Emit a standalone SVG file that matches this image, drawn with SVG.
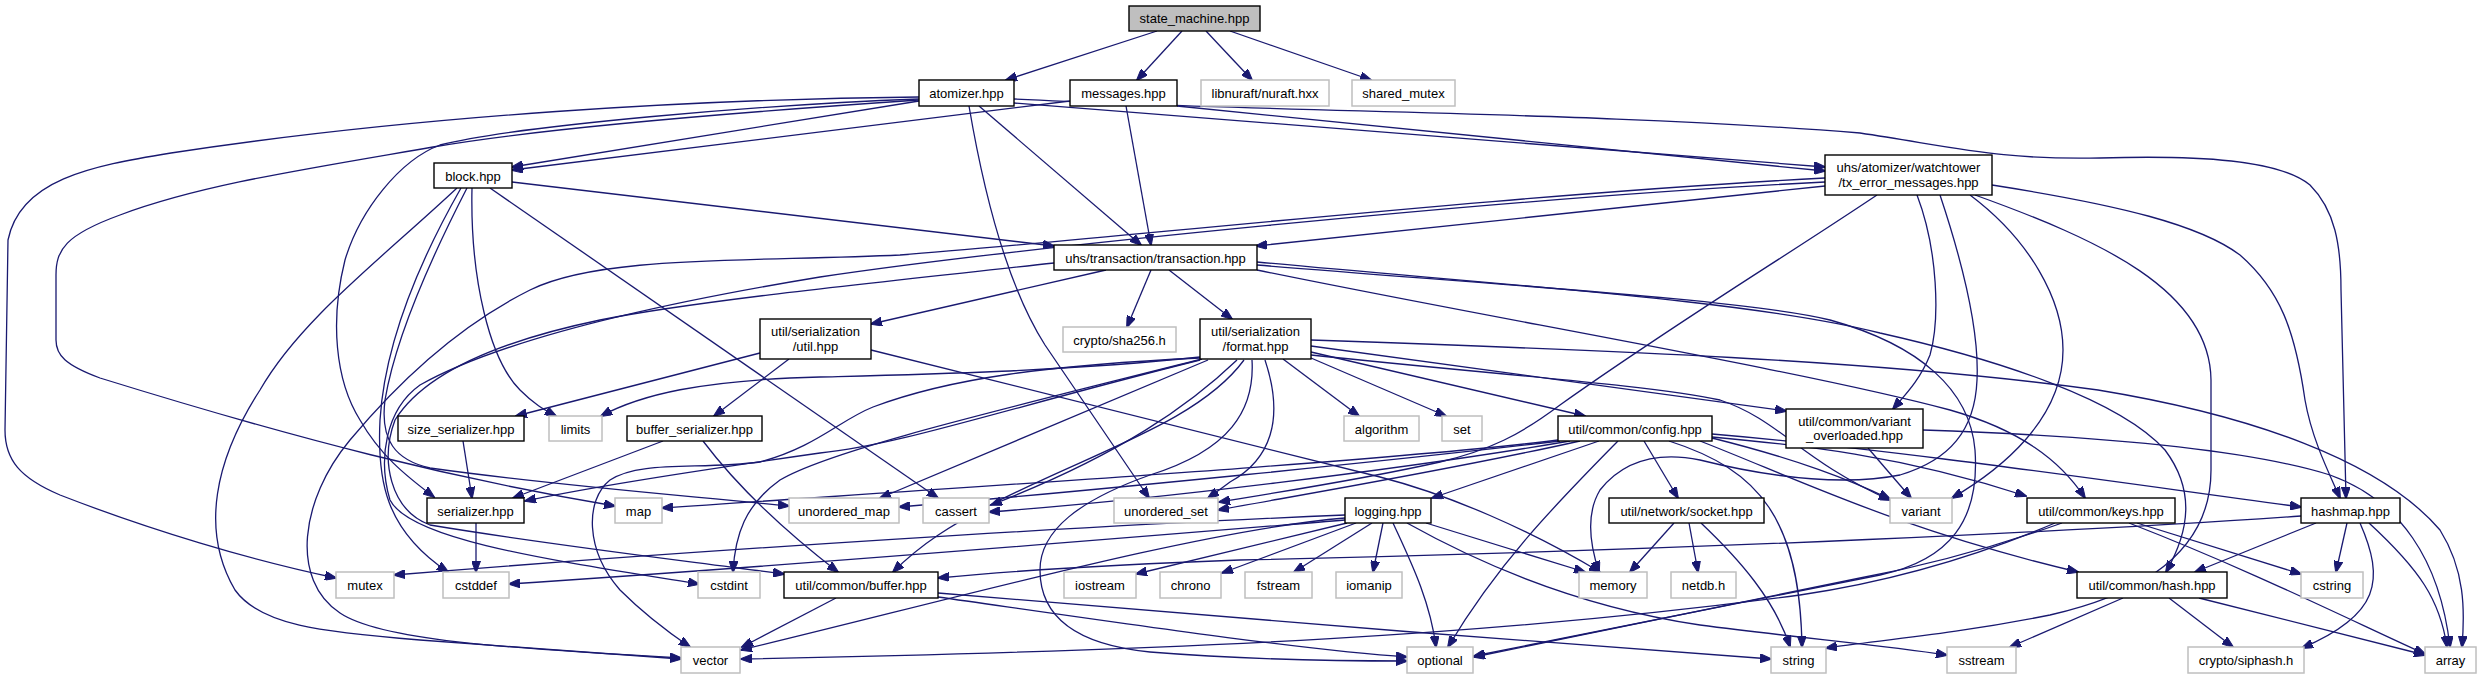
<svg xmlns="http://www.w3.org/2000/svg" width="2481" height="679" viewBox="0 0 2481 679">
<style>
.n rect{fill:#fff;stroke:#000;stroke-width:1.4}
.x rect{fill:#fff;stroke:#bfbfbf;stroke-width:1.5}
.r rect{fill:#bfbfbf;stroke:#000;stroke-width:1.4}
text{font-family:"Liberation Sans",Arial,sans-serif;font-size:13px;fill:#000;text-anchor:middle}
#edges path{fill:none;stroke:#191970;stroke-width:1.3;marker-end:url(#a)}
</style>
<defs>
<marker id="a" viewBox="0 0 12 9" refX="11" refY="4.5" markerWidth="12" markerHeight="9" markerUnits="userSpaceOnUse" orient="auto">
<path d="M0,0 L12,4.5 L0,9 z" fill="#191970" stroke="#191970" stroke-width="1"/>
</marker>
</defs>
<rect width="2481" height="679" fill="#fff"/>
<g id="edges">
<path d="M1157,31 L1006,80"/>
<path d="M1182,31 L1137,80"/>
<path d="M1206,31 L1252,80"/>
<path d="M1230,31 L1371,80"/>
<path d="M919,101 L512,167"/>
<path d="M1070,101 L512,170"/>
<path d="M1014,103 L1825,167"/>
<path d="M1177,106 L1825,171"/>
<path d="M979,106 L1141,245"/>
<path d="M1126,106 L1151,245"/>
<path d="M512,182 L1054,246"/>
<path d="M1825,186 L1256,246"/>
<path d="M1014,99 C1300,113 1600,112 1860,133 C1960,148 2000,160 2100,158 C2200,155 2280,160 2310,185 C2335,210 2341,245 2341,290 L2346,498"/>
<path d="M969,106 C985,200 1010,290 1045,345 L1149,498"/>
<path d="M919,97 C700,99 420,115 171,153 C90,166 20,180 8,240 L5,430 C5,460 20,478 60,495 C150,530 250,560 336,578"/>
<path d="M919,100 C800,108 560,125 433,147 C300,170 200,185 120,215 C65,235 56,250 56,275 L56,340 C56,355 65,365 100,378 C300,440 450,478 615,506"/>
<path d="M919,99 C760,105 520,125 440,145 C400,160 360,210 345,260 C330,320 335,380 360,420 C380,455 405,475 434,497"/>
<path d="M457,188 C380,260 300,320 260,390 C215,460 200,530 235,590 C260,625 320,632 420,640 L681,659"/>
<path d="M490,188 L938,498"/>
<path d="M472,188 C470,280 490,360 520,390 C535,405 545,410 556,416"/>
<path d="M461,188 C420,260 385,340 380,420 C377,480 385,530 448,572"/>
<path d="M467,188 C430,260 395,340 385,400 C380,440 395,460 430,468 C550,485 680,495 789,506"/>
<path d="M1825,178 C1500,195 1100,240 900,255 C750,262 600,255 530,290 C460,325 400,380 350,440 C300,500 290,580 340,613 C380,640 500,648 681,658"/>
<path d="M1825,182 C1500,198 1000,250 820,277 C650,305 500,340 420,385 C385,410 378,460 390,500 C410,540 550,560 699,584"/>
<path d="M1054,263 C900,280 700,300 600,320 C480,345 420,380 395,420 C380,460 390,510 430,525 C550,545 680,560 784,574"/>
<path d="M760,353 L516,416"/>
<path d="M789,359 L714,416"/>
<path d="M871,350 L1380,477 C1450,495 1530,530 1600,572"/>
<path d="M463,441 L472,498"/>
<path d="M663,441 L513,498"/>
<path d="M703,441 C740,490 790,535 838,572"/>
<path d="M476,523 L476,572"/>
<path d="M1106,270 L871,324"/>
<path d="M1151,270 L1127,327"/>
<path d="M1169,270 L1232,319"/>
<path d="M1257,262 C1500,285 1750,300 1880,333 C2000,360 2120,400 2165,450 C2195,490 2190,530 2166,572"/>
<path d="M1257,265 C1500,285 1750,300 1830,320 C1920,345 1970,390 1975,450 C1980,520 1950,560 1880,575 L1474,656"/>
<path d="M1257,270 C1500,320 1800,370 1950,410 C2020,430 2060,460 2085,498"/>
<path d="M1917,195 C1938,250 1940,320 1930,355 C1920,380 1905,395 1893,409"/>
<path d="M1970,195 C2030,240 2063,300 2063,350 C2063,420 2000,470 1952,498"/>
<path d="M1975,195 C2100,240 2210,290 2211,380 L2211,470 C2211,540 2160,590 2050,615 C1950,635 1880,640 1826,648"/>
<path d="M1992,185 C2120,205 2200,225 2240,255 C2280,290 2295,330 2305,400 C2312,440 2330,475 2340,498"/>
<path d="M1940,195 C1955,240 1980,320 1977,380 C1975,430 1950,460 1900,475 C1850,485 1780,480 1700,460 C1650,450 1620,465 1600,490 C1585,515 1590,545 1599,572"/>
<path d="M1877,195 C1780,260 1680,320 1560,405 C1520,435 1490,450 1440,462 C1360,480 1280,492 1219,502"/>
<path d="M1200,357 C1060,372 900,375 820,377 C700,380 640,395 601,416"/>
<path d="M1200,360 C1000,410 900,445 820,453 C700,470 600,485 525,501"/>
<path d="M1200,358 C1050,365 950,378 873,407 C840,420 816,447 760,462 C700,470 640,460 610,480 C585,500 585,550 620,590 C645,615 665,630 690,647"/>
<path d="M1202,359 C1000,410 830,450 780,480 C745,505 735,535 733,572"/>
<path d="M1208,360 L880,498"/>
<path d="M1237,360 C1190,405 1120,455 991,505"/>
<path d="M1244,360 C1200,420 1100,450 1000,500 C950,525 920,545 893,572"/>
<path d="M1252,360 C1255,410 1230,450 1150,475 C1080,500 1040,530 1040,570 C1040,620 1080,645 1150,652 C1250,660 1330,661 1407,661"/>
<path d="M1265,360 C1285,420 1270,460 1230,482 C1222,488 1215,493 1208,498"/>
<path d="M1283,359 L1359,416"/>
<path d="M1311,358 L1446,416"/>
<path d="M1311,352 L1585,416"/>
<path d="M1311,346 L1786,411"/>
<path d="M1311,355 C1500,375 1650,385 1720,400 C1780,420 1800,460 1890,500"/>
<path d="M1311,340 C1600,350 1880,360 2098,390 C2250,415 2380,460 2440,530 C2465,570 2465,610 2462,647"/>
<path d="M1599,441 L1432,498"/>
<path d="M1558,440 C1400,460 1000,485 662,508"/>
<path d="M1560,441 C1400,460 1100,490 899,507"/>
<path d="M1570,441 C1400,470 1150,500 989,512"/>
<path d="M1580,441 C1450,470 1300,495 1218,510"/>
<path d="M1618,441 C1560,500 1500,560 1448,647"/>
<path d="M1644,441 L1678,498"/>
<path d="M1669,441 C1760,470 1800,520 1802,647"/>
<path d="M1700,441 C1800,480 1900,530 2078,572"/>
<path d="M1712,437 C1800,445 1900,455 2026,496"/>
<path d="M1712,438 C1800,460 1850,480 1890,499"/>
<path d="M1712,434 C1900,450 2100,480 2301,507"/>
<path d="M1347,523 L1136,574"/>
<path d="M1356,523 L1222,573"/>
<path d="M1372,523 L1294,572"/>
<path d="M1383,523 L1373,572"/>
<path d="M1426,523 L1585,572"/>
<path d="M1393,523 C1410,560 1430,600 1436,647"/>
<path d="M1407,523 C1500,575 1600,610 1700,625 C1800,638 1880,645 1947,655"/>
<path d="M1345,515 C1100,525 700,550 394,575"/>
<path d="M1345,520 C1100,540 800,565 509,584"/>
<path d="M1345,518 C1200,530 950,600 741,650"/>
<path d="M1674,523 L1630,572"/>
<path d="M1689,523 L1698,572"/>
<path d="M1701,523 C1740,560 1775,600 1790,647"/>
<path d="M1868,448 L1911,498"/>
<path d="M1923,430 C2100,436 2250,450 2330,475 C2400,500 2440,560 2450,647"/>
<path d="M2137,523 L2301,574"/>
<path d="M2129,523 C2250,570 2350,620 2425,654"/>
<path d="M2062,523 C2000,545 1930,565 1860,578 L1474,657"/>
<path d="M2055,523 C1980,555 1900,580 1800,595 C1500,635 1200,650 741,659"/>
<path d="M2123,598 L2010,647"/>
<path d="M2169,598 L2233,647"/>
<path d="M2199,598 L2425,655"/>
<path d="M2301,516 C2100,530 1700,550 1240,560 C1100,565 1000,572 938,578"/>
<path d="M2316,523 L2195,572"/>
<path d="M2347,523 L2336,572"/>
<path d="M2360,523 C2385,580 2380,615 2302,648"/>
<path d="M2369,523 C2420,570 2440,600 2447,647"/>
<path d="M836,598 L742,647"/>
<path d="M938,593 C1200,615 1500,640 1771,659"/>
<path d="M938,597 C1100,620 1300,650 1407,657"/>
</g>
<g id="state_machine" class="r"><rect x="1129" y="6" width="131" height="25"/><text x="1194.5" y="23">state_machine.hpp</text></g>
<g id="atomizer" class="n"><rect x="919" y="80" width="95" height="26"/><text x="966.5" y="97.5">atomizer.hpp</text></g>
<g id="messages" class="n"><rect x="1070" y="80" width="107" height="26"/><text x="1123.5" y="97.5">messages.hpp</text></g>
<g id="nuraft" class="x"><rect x="1201" y="80" width="128" height="26"/><text x="1265" y="97.5">libnuraft/nuraft.hxx</text></g>
<g id="shared_mutex" class="x"><rect x="1352" y="80" width="103" height="26"/><text x="1403.5" y="97.5">shared_mutex</text></g>
<g id="block" class="n"><rect x="434" y="163" width="78" height="25"/><text x="473" y="180.5">block.hpp</text></g>
<g id="tx_error" class="n"><rect x="1825" y="155" width="167" height="40"/><text x="1908.5" y="171.5">uhs/atomizer/watchtower</text><text x="1908.5" y="186.5">/tx_error_messages.hpp</text></g>
<g id="transaction" class="n"><rect x="1054" y="245" width="203" height="25"/><text x="1155.5" y="262.5">uhs/transaction/transaction.hpp</text></g>
<g id="ser_util" class="n"><rect x="760" y="319" width="111" height="40"/><text x="815.5" y="335.5">util/serialization</text><text x="815.5" y="350.5">/util.hpp</text></g>
<g id="sha256" class="x"><rect x="1063" y="327" width="113" height="25"/><text x="1119.5" y="344.5">crypto/sha256.h</text></g>
<g id="format" class="n"><rect x="1200" y="319" width="111" height="40"/><text x="1255.5" y="335.5">util/serialization</text><text x="1255.5" y="350.5">/format.hpp</text></g>
<g id="size_serializer" class="n"><rect x="398" y="416" width="126" height="25"/><text x="461" y="433.5">size_serializer.hpp</text></g>
<g id="limits" class="x"><rect x="549" y="416" width="53" height="25"/><text x="575.5" y="433.5">limits</text></g>
<g id="buffer_serializer" class="n"><rect x="627" y="416" width="135" height="25"/><text x="694.5" y="433.5">buffer_serializer.hpp</text></g>
<g id="algorithm" class="x"><rect x="1344" y="416" width="75" height="25"/><text x="1381.5" y="433.5">algorithm</text></g>
<g id="set" class="x"><rect x="1442" y="416" width="40" height="25"/><text x="1462" y="433.5">set</text></g>
<g id="config" class="n"><rect x="1558" y="416" width="154" height="25"/><text x="1635" y="433.5">util/common/config.hpp</text></g>
<g id="variant_overloaded" class="n"><rect x="1786" y="409" width="137" height="39"/><text x="1854.5" y="425.5">util/common/variant</text><text x="1854.5" y="440">_overloaded.hpp</text></g>
<g id="serializer" class="n"><rect x="427" y="498" width="97" height="25"/><text x="475.5" y="515.5">serializer.hpp</text></g>
<g id="map" class="x"><rect x="615" y="498" width="47" height="25"/><text x="638.5" y="515.5">map</text></g>
<g id="unordered_map" class="x"><rect x="789" y="498" width="110" height="25"/><text x="844" y="515.5">unordered_map</text></g>
<g id="cassert" class="x"><rect x="923" y="498" width="66" height="25"/><text x="956" y="515.5">cassert</text></g>
<g id="unordered_set" class="x"><rect x="1114" y="498" width="104" height="25"/><text x="1166" y="515.5">unordered_set</text></g>
<g id="logging" class="n"><rect x="1345" y="498" width="86" height="25"/><text x="1388" y="515.5">logging.hpp</text></g>
<g id="socket" class="n"><rect x="1609" y="498" width="155" height="25"/><text x="1686.5" y="515.5">util/network/socket.hpp</text></g>
<g id="variant" class="x"><rect x="1890" y="498" width="62" height="25"/><text x="1921" y="515.5">variant</text></g>
<g id="keys" class="n"><rect x="2027" y="498" width="148" height="25"/><text x="2101" y="515.5">util/common/keys.hpp</text></g>
<g id="hashmap" class="n"><rect x="2301" y="498" width="99" height="25"/><text x="2350.5" y="515.5">hashmap.hpp</text></g>
<g id="mutex" class="x"><rect x="336" y="572" width="58" height="26"/><text x="365" y="589.5">mutex</text></g>
<g id="cstddef" class="x"><rect x="443" y="572" width="66" height="26"/><text x="476" y="589.5">cstddef</text></g>
<g id="cstdint" class="x"><rect x="698" y="572" width="62" height="26"/><text x="729" y="589.5">cstdint</text></g>
<g id="buffer" class="n"><rect x="784" y="572" width="154" height="26"/><text x="861" y="589.5">util/common/buffer.hpp</text></g>
<g id="iostream" class="x"><rect x="1064" y="572" width="72" height="26"/><text x="1100" y="589.5">iostream</text></g>
<g id="chrono" class="x"><rect x="1160" y="572" width="61" height="26"/><text x="1190.5" y="589.5">chrono</text></g>
<g id="fstream" class="x"><rect x="1245" y="572" width="67" height="26"/><text x="1278.5" y="589.5">fstream</text></g>
<g id="iomanip" class="x"><rect x="1336" y="572" width="66" height="26"/><text x="1369" y="589.5">iomanip</text></g>
<g id="memory" class="x"><rect x="1579" y="572" width="68" height="26"/><text x="1613" y="589.5">memory</text></g>
<g id="netdb" class="x"><rect x="1671" y="572" width="65" height="26"/><text x="1703.5" y="589.5">netdb.h</text></g>
<g id="hash" class="n"><rect x="2077" y="572" width="150" height="26"/><text x="2152" y="589.5">util/common/hash.hpp</text></g>
<g id="cstring" class="x"><rect x="2301" y="572" width="62" height="26"/><text x="2332" y="589.5">cstring</text></g>
<g id="vector" class="x"><rect x="681" y="647" width="59" height="26"/><text x="710.5" y="664.5">vector</text></g>
<g id="optional" class="x"><rect x="1407" y="647" width="66" height="26"/><text x="1440" y="664.5">optional</text></g>
<g id="string" class="x"><rect x="1771" y="647" width="55" height="26"/><text x="1798.5" y="664.5">string</text></g>
<g id="sstream" class="x"><rect x="1947" y="647" width="69" height="26"/><text x="1981.5" y="664.5">sstream</text></g>
<g id="siphash" class="x"><rect x="2188" y="647" width="116" height="26"/><text x="2246" y="664.5">crypto/siphash.h</text></g>
<g id="array" class="x"><rect x="2425" y="647" width="51" height="26"/><text x="2450.5" y="664.5">array</text></g>
</svg>
